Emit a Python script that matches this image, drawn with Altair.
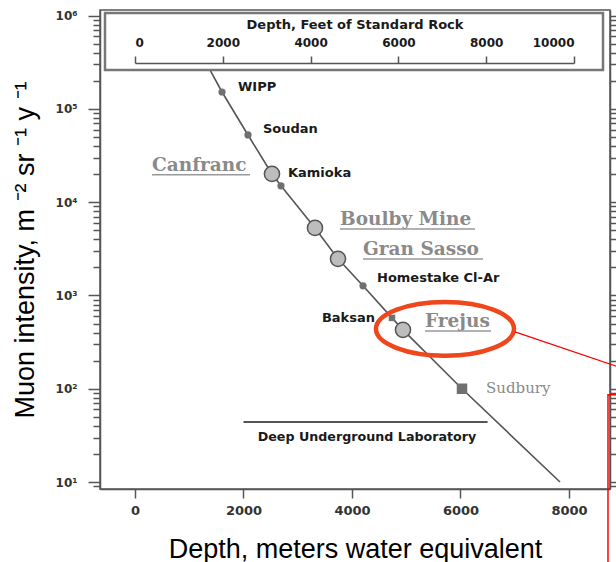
import altair as alt
import pandas as pd

# Underground laboratories: depth (m w.e.) and vertical muon intensity (m^-2 sr^-1 y^-1)
dot_labs = ["WIPP", "Soudan", "Kamioka", "Homestake Cl-Ar"]
dot_depth = [1604, 2083, 2691, 4203]
dot_flux = [1.52e5, 5.26e4, 1.50e4, 1.27e3]

ring_labs = ["Canfranc", "Boulby Mine", "Gran Sasso", "Frejus"]
ring_depth = [2525, 3318, 3742, 4940]
ring_flux = [2.01e4, 5.3e3, 2.47e3, 428]

square_labs = ["Baksan", "Sudbury"]
square_depth = [4737, 6028]
square_flux = [575, 100]

# Depth-intensity curve
curve_depth = [1382, 1604, 2083, 2525, 2691, 3318, 3742, 4203, 4737, 4940, 6028, 7834]
curve_flux = [2.62e5, 1.52e5, 5.26e4, 2.01e4, 1.50e4, 5.3e3, 2.47e3, 1.27e3, 575, 428, 100, 10.0]

# Axis ticks
mwe_ticks = [0, 2000, 4000, 6000, 8000]
feet_ticks = [0, 2000, 4000, 6000, 8000, 10000]
decades = [10, 100, 1000, 10000, 100000, 1000000]

# Label anchors (depth, intensity)
sans_text = ["WIPP", "Soudan", "Kamioka", "Homestake Cl-Ar"]
sans_x = [1899, 2359, 2820, 4461]
sans_y = [1.72e5, 6.1e4, 2.06e4, 1545]

serif_text = ["Canfranc", "Boulby Mine", "Gran Sasso", "Frejus"]
serif_x = [313, 3779, 4203, 5346]
serif_x_end = [2120, 6267, 6415, 6562]
serif_y = [2.17e4, 5.71e3, 2.72e3, 460]

W, H = 510, 479

xscale = alt.Scale(domain=[-645, 8756], nice=False, zero=False)
yscale = alt.Scale(type="log", domain=[8.414, 1.151e6], nice=False)

y_ticks = sorted(set(decades + [m * 10 ** k for k in range(0, 6) for m in range(2, 10) if m * 10 ** k >= 9]))
is_decade = "indexof([10,100,1000,10000,100000,1000000], datum.value) >= 0"
sup = "['\u2070','\u00b9','\u00b2','\u00b3','\u2074','\u2075','\u2076','\u2077','\u2078','\u2079']"
tick_len = {"condition": {"test": is_decade, "value": 12}, "value": 7}

x_axis = alt.Axis(
    values=mwe_ticks, title="Depth, meters water equivalent", format="d",
    labelFont="DejaVu Sans", labelFontWeight="bold", labelFontSize=13, labelColor="#333",
    labelPadding=6, tickSize=9,
    titleFont="Liberation Sans", titleFontSize=27, titleFontWeight="normal", titleColor="black",
    titlePadding=19,
)
y_axis = alt.Axis(
    values=y_ticks,
    labelExpr=f"{is_decade} ? '10' + {sup}[round(log(datum.value)/LN10)] : ''",
    tickSize=tick_len,
    title="Muon intensity, m \u207b\u00b2 sr \u207b\u00b9 y \u207b\u00b9",
    labelFont="DejaVu Sans", labelFontWeight="bold", labelFontSize=12, labelColor="#333",
    labelPadding=11,
    titleFont="Liberation Sans", titleFontSize=27, titleFontWeight="normal", titleColor="black",
    titlePadding=16,
)


def X(field):
    return alt.X(field, type="quantitative", scale=xscale, axis=x_axis)


def Y(field):
    return alt.Y(field, type="quantitative", scale=yscale, axis=y_axis)


curve_df = pd.DataFrame({"depth": curve_depth, "flux": curve_flux})
dot_df = pd.DataFrame({"lab": dot_labs, "depth": dot_depth, "flux": dot_flux})
ring_df = pd.DataFrame({"lab": ring_labs, "depth": ring_depth, "flux": ring_flux})
square_df = pd.DataFrame({"lab": square_labs, "depth": square_depth, "flux": square_flux})
sans_df = pd.DataFrame({"text": sans_text, "depth": sans_x, "flux": sans_y})
serif_df = pd.DataFrame({"text": serif_text, "depth": serif_x, "depth_end": serif_x_end, "flux": serif_y})

curve = alt.Chart(curve_df).mark_line(color="#555", strokeWidth=1.6).encode(x=X("depth"), y=Y("flux"))

dots = alt.Chart(dot_df).mark_point(filled=True, shape="circle", size=52, color="#707070", opacity=1).encode(
    x=X("depth"), y=Y("flux"))
rings = alt.Chart(ring_df).mark_point(filled=True, shape="circle", size=230, fill="#bdbdbd",
                                      stroke="#555", strokeWidth=1.5, opacity=1).encode(x=X("depth"), y=Y("flux"))
baksan = alt.Chart(square_df).transform_filter("datum.lab == 'Baksan'").mark_point(
    filled=True, shape="square", size=42, color="#707070", opacity=1).encode(x=X("depth"), y=Y("flux"))
sudbury = alt.Chart(square_df).transform_filter("datum.lab == 'Sudbury'").mark_point(
    filled=True, shape="square", size=110, color="#707070", opacity=1).encode(x=X("depth"), y=Y("flux"))

sans_labels = alt.Chart(sans_df).mark_text(
    align="left", baseline="middle", font="DejaVu Sans", fontWeight="bold", fontSize=13, color="#1a1a1a"
).encode(x=X("depth"), y=Y("flux"), text="text:N")
baksan_label = alt.Chart(pd.DataFrame({"text": ["Baksan"], "depth": [4424], "flux": [575]})).mark_text(
    align="right", baseline="middle", font="DejaVu Sans", fontWeight="bold", fontSize=13, color="#1a1a1a"
).encode(x=X("depth"), y=Y("flux"), text="text:N")
sudbury_label = alt.Chart(pd.DataFrame({"text": ["Sudbury"], "depth": [6470], "flux": [102]})).mark_text(
    align="left", baseline="middle", font="DejaVu Serif", fontSize=15, color="#8a8a8a"
).encode(x=X("depth"), y=Y("flux"), text="text:N")

serif_labels = alt.Chart(serif_df).mark_text(
    align="left", baseline="alphabetic", font="DejaVu Serif", fontWeight="bold", fontSize=18.5, color="#8a8a8a"
).encode(x=X("depth"), y=Y("flux"), text="text:N")
underlines = alt.Chart(serif_df).mark_rule(color="#999", strokeWidth=1.5, yOffset=4).encode(
    x=X("depth"), x2="depth_end:Q", y=Y("flux"))

# Deep underground laboratory threshold
dul_df = pd.DataFrame({"depth": [2000], "depth_end": [6500], "flux": [44]})
dul_line = alt.Chart(dul_df).mark_rule(color="#555", strokeWidth=2).encode(
    x=X("depth"), x2="depth_end:Q", y=Y("flux"))
dul_text = alt.Chart(pd.DataFrame({"text": ["Deep Underground Laboratory"], "depth": [4277], "flux": [30.5]})).mark_text(
    align="center", baseline="middle", font="DejaVu Sans", fontWeight="bold", fontSize=12.7, color="#1a1a1a"
).encode(x=X("depth"), y=Y("flux"), text="text:N")

# Frame holding the feet-of-standard-rock scale
inset_box = alt.Chart(alt.Data(values=[{}])).mark_rect(fill="white", stroke="#777", strokeWidth=2.5).encode(
    x=alt.value(5), x2=alt.value(503), y=alt.value(3), y2=alt.value(60))

# Highlight around Frejus with a leader line and a box at the edge
ellipse_path = "M -1 0 A 1 0.39 0 1 0 1 0 A 1 0.39 0 1 0 -1 0 Z"
highlight = alt.Chart(pd.DataFrame({"depth": [5714], "flux": [439]})).mark_point(
    shape=ellipse_path, size=19044, filled=False, stroke="#f0461c", strokeWidth=4.5, opacity=1
).encode(x=X("depth"), y=Y("flux"))
leader = alt.Chart(pd.DataFrame({"depth": [7005], "depth_end": [8940], "flux": [407], "flux_end": [169]})).mark_rule(
    color="red", strokeWidth=1.3).encode(x=X("depth"), x2="depth_end:Q", y=Y("flux"), y2="flux_end:Q")
edge_box = alt.Chart(pd.DataFrame({"depth": [8719], "depth_end": [9600], "flux": [86], "flux_end": [1]})).mark_rect(
    fill="transparent", stroke="red", strokeWidth=1.5).encode(x=X("depth"), x2="depth_end:Q", y=Y("flux"), y2="flux_end:Q")

main = alt.layer(
    curve, dul_line, dul_text, inset_box, dots, rings, baksan, sudbury,
    sans_labels, baksan_label, sudbury_label, serif_labels, underlines,
    highlight, leader, edge_box,
)

# Secondary scales: feet of standard rock on top, mirrored intensity ticks on the right
feet_df = pd.DataFrame({"feet": feet_ticks, "flux": [1000] * len(feet_ticks)})
feet_layer = alt.Chart(feet_df).mark_point(opacity=0).encode(
    x=alt.X("feet:Q", scale=alt.Scale(domain=[0, 10000], range=[35, 474], nice=False),
            axis=alt.Axis(orient="top", offset=-53, values=feet_ticks, format="d", tickSize=7, zindex=1,
                          title="Depth, Feet of Standard Rock", titleFont="DejaVu Sans", titleFontWeight="bold",
                          titleFontSize=13, titleColor="#1a1a1a", titlePadding=5,
                          labelFont="DejaVu Sans", labelFontWeight="bold", labelFontSize=12, labelColor="#1a1a1a",
                          labelPadding=7)),
    y=alt.Y("flux:Q", scale=yscale,
            axis=alt.Axis(orient="right", values=y_ticks, labels=False, title=None, tickSize=tick_len)),
)

chart = alt.layer(main, feet_layer).resolve_scale(x="independent", y="independent").properties(
    width=W, height=H, autosize="none",
    padding={"left": 100, "top": 10, "right": 6, "bottom": 73},
    background="white",
).configure_view(stroke="#555", strokeWidth=1.5).configure_axis(
    domainColor="#555", tickColor="#555", domainWidth=1.5, tickWidth=1.5, grid=False
)

chart.save("out.html", embed_options={"renderer": "svg", "actions": False})
